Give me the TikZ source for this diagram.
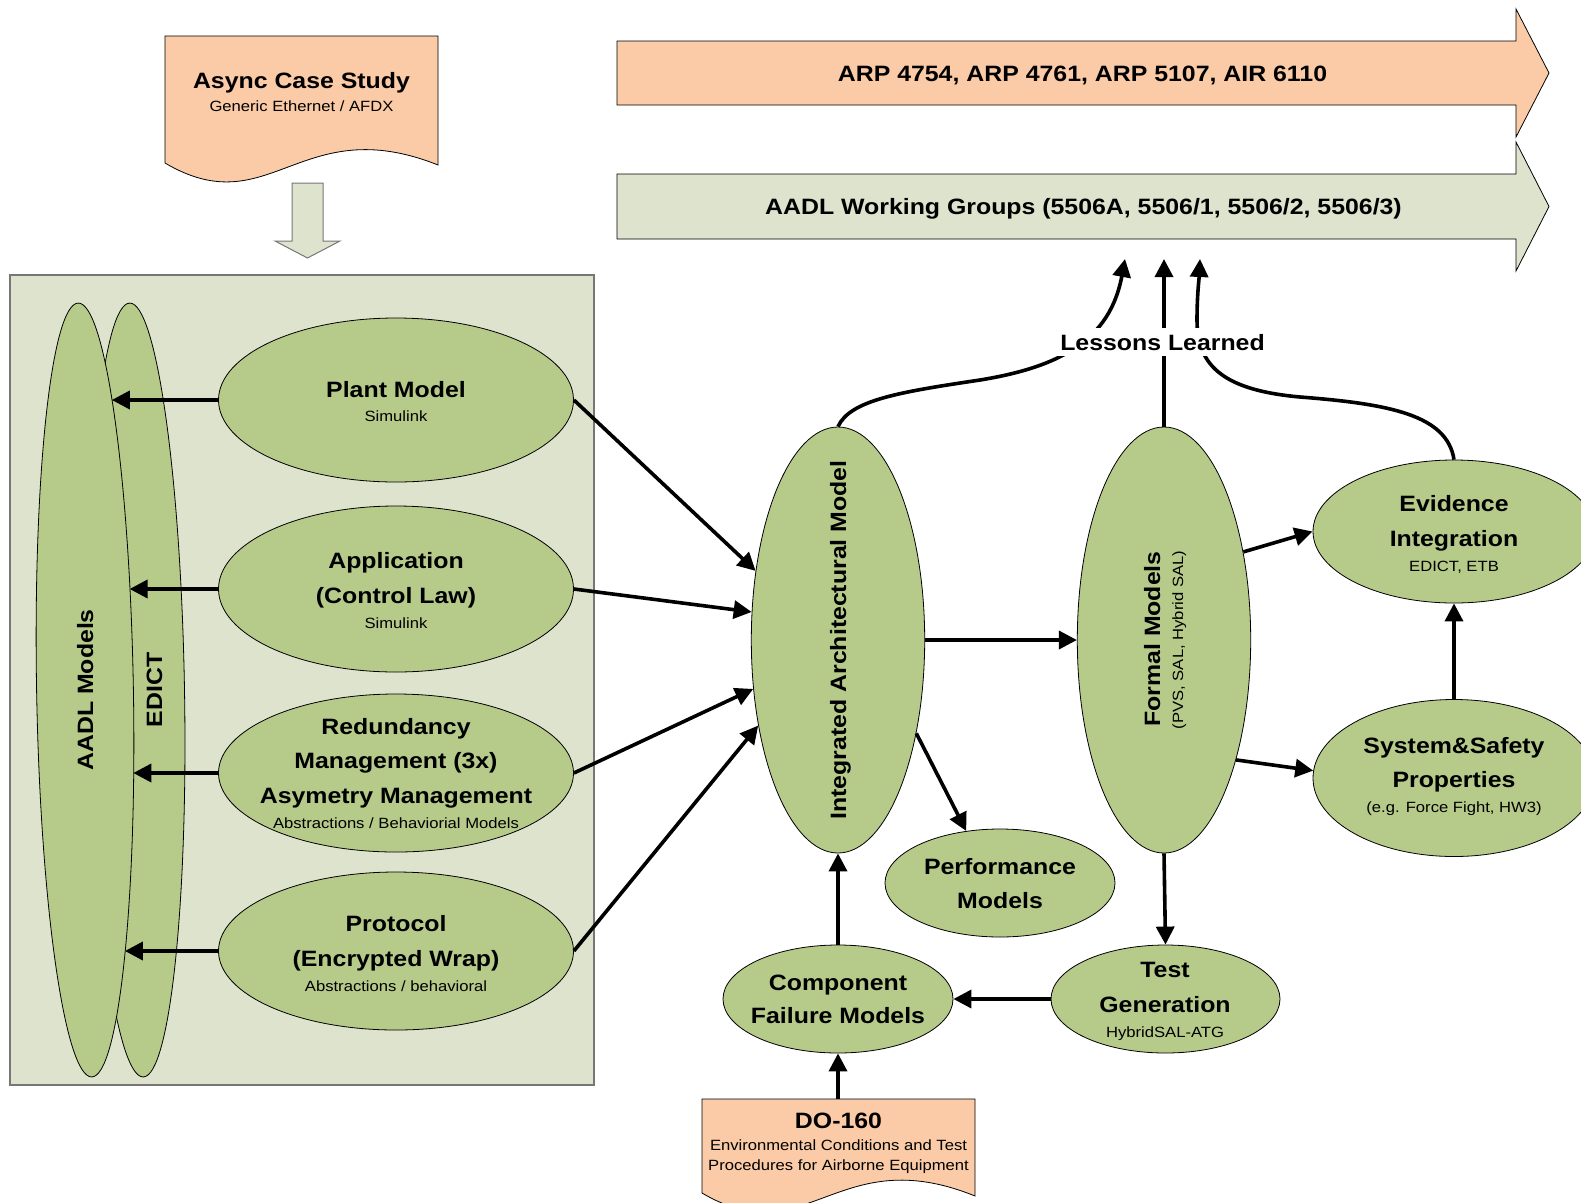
\documentclass[tikz,border=0pt]{standalone}
\usepackage{fontspec}
\setmainfont{Liberation Sans}[FakeStretch=1.12]
\usetikzlibrary{shapes.geometric, arrows.meta}
\definecolor{peach}{RGB}{250,203,166}
\definecolor{leaf}{RGB}{182,202,138}
\definecolor{sage}{RGB}{222,227,205}
\definecolor{rim}{RGB}{118,118,118}
\newcommand\headfont{\fontsize{22.2}{26}\selectfont\bfseries}
\newcommand\notefont{\fontsize{14.85}{18}\selectfont}
\begin{document}
\begin{tikzpicture}[x=1pt, y=-1pt,
  ell/.style={ellipse, draw=black, line width=0.8pt, fill=leaf, inner sep=0pt},
  sz/.style 2 args={minimum width=#1pt, minimum height=#2pt},
  hd/.style={font=\headfont, anchor=base, inner sep=0pt},
  nt/.style={font=\notefont, anchor=base, inner sep=0pt},
  flow/.style={line width=3.6pt, -{Triangle[length=18pt,width=18pt]}},
  shapeline/.style={draw=black, line width=0.8pt}]
\useasboundingbox (0,0) rectangle (1581,1202);
\clip (0,0) rectangle (1581,1202);

% ---- left panel with the modelling inputs
\draw[rim, fill=sage, line width=1.3pt] (10,275) rectangle (594,1085);

% ---- case study document and its arrow into the panel
\draw[shapeline, fill=peach] (165,36) -- (438,36) -- (438,165)
  .. controls (300,110) and (270,225) .. (165,163) -- cycle;
\node[hd] (async-a) at (301.5,88.5) {Async Case Study};
\node[nt] (async-b) at (301.5,111.7) {Generic Ethernet / AFDX};
\draw[rim, fill=sage, line width=1pt] (292,183) -- (323,183) -- (323,241) -- (340,241)
  -- (307.5,258) -- (275,241) -- (292,241) -- cycle;

% ---- standards block arrows
\draw[shapeline, fill=peach] (617,41) -- (1516,41) -- (1516,9) -- (1549,73)
  -- (1516,137) -- (1516,105) -- (617,105) -- cycle;
\node[hd] (arp) at (1082.5,81) {ARP 4754, ARP 4761, ARP 5107, AIR 6110};
\draw[shapeline, fill=sage] (617,174) -- (1516,174) -- (1516,142) -- (1549,206.5)
  -- (1516,271) -- (1516,239) -- (617,239) -- cycle;
\node[hd] (aadlwg) at (1083.5,214) {AADL Working Groups (5506A, 5506/1, 5506/2, 5506/3)};

% ---- tall ellipses: EDICT behind AADL Models
\node[ell, sz={96}{774}, rotate=1] (edict) at (136.5,690) {};
\node[ell, sz={96.8}{774}, rotate=1] (aadl) at (85,690) {};
\node[hd, rotate=90] (aadl-t) at (93,690) {AADL Models};
\node[hd, rotate=90] (edict-t) at (162,690) {EDICT};
% points on the right rim of the AADL ellipse where the inputs land
\coordinate (aadl-in1) at (111.8,400);
\coordinate (aadl-in2) at (129.6,589);
\coordinate (aadl-in3) at (133.3,773);
\coordinate (aadl-in4) at (124.9,951);

% ---- source models
\node[ell, sz={355}{164}] (plant) at (396,400) {};
\node[ell, sz={355}{166}] (app) at (396,589) {};
\node[ell, sz={355}{158}] (redund) at (396,773) {};
\node[ell, sz={355}{158}] (proto) at (396,951) {};

% ---- analysis side
\node[ell, sz={173.4}{426}] (iam) at (838,640) {};
\node[ell, sz={173.4}{426}] (formal) at (1164,640) {};
\node[ell, sz={282}{143}] (evid) at (1454,531.5) {};
\node[ell, sz={282}{157}] (sys) at (1454,778) {};
\node[ell, sz={230}{108}] (perf) at (1000,883) {};
\node[ell, sz={230}{108}] (comp) at (838,999) {};
\node[ell, sz={229}{108}] (testgen) at (1165.5,999) {};

% ---- DO-160 document
\draw[shapeline, fill=peach] (702,1099) -- (975,1099) -- (975,1196)
  .. controls (837,1140) and (807,1255) .. (702,1193) -- cycle;
\coordinate (do-top) at (838,1099);

% ---- connectors
\draw[flow] (plant.west) -- (aadl-in1);
\draw[flow] (app.west) -- (aadl-in2);
\draw[flow] (redund.west) -- (aadl-in3);
\draw[flow] (proto.west) -- (aadl-in4);
\draw[flow] (plant.east) -- (iam.140.7);
\draw[flow] (app.east) -- (iam.162);
\draw[flow] (redund.east) -- (iam.210.5);
\draw[flow] (proto.east) -- (iam.227);
\draw[flow] (iam.east) -- (formal.west);
\draw[flow] (iam.310) -- (perf.123);
\draw[flow] (comp.north) -- (iam.south);
\draw[flow] (do-top) -- (comp.south);
\draw[flow] (testgen.west) -- (comp.east);
\draw[flow] (formal.south) -- (testgen.north);
\draw[flow] (formal.48) -- (evid.west);
\draw[flow] (formal.301.5) -- (sys.177);
\draw[flow] (sys.north) -- (evid.south);

% ---- lessons learned feedback
\coordinate (ll-left) at (1125,259);
\coordinate (ll-mid) at (1164,259);
\coordinate (ll-right) at (1200,259);
\draw[flow] (iam.north) .. controls (850,400) and (900,392) .. (980,380)
  .. controls (1060,367) and (1110,340) .. (ll-left);
\draw[flow] (formal.north) -- (ll-mid);
\draw[flow] (evid.north) .. controls (1447,415) and (1390,404) .. (1300,397)
  .. controls (1222,390) and (1197,365) .. (1197,320)
  .. controls (1197,295) and (1199,280) .. (ll-right);
\node[hd, fill=white, inner xsep=3pt, inner ysep=6pt] (lessons) at (1162.5,350) {Lessons Learned};

% ---- labels
\node[hd] (plant-a) at (396,397) {Plant Model};
\node[nt] (plant-b) at (396,421.7) {Simulink};
\node[hd] (app-a) at (396,568.6) {Application};
\node[hd] (app-b) at (396,603) {(Control Law)};
\node[nt] (app-c) at (396,628.4) {Simulink};
\node[hd] (redund-a) at (396,734) {Redundancy};
\node[hd] (redund-b) at (396,768.5) {Management (3x)};
\node[hd] (redund-c) at (396,803) {Asymetry Management};
\node[nt] (redund-d) at (396,828) {Abstractions / Behaviorial Models};
\node[hd] (proto-a) at (396,931.6) {Protocol};
\node[hd] (proto-b) at (396,966) {(Encrypted Wrap)};
\node[nt] (proto-c) at (396,991.4) {Abstractions / behavioral};

\node[hd, rotate=90] (iam-t) at (846,640) {Integrated Architectural Model};
\node[hd, rotate=90] (formal-a) at (1160,639) {Formal Models};
\node[nt, rotate=90] (formal-b) at (1183,640) {(PVS, SAL, Hybrid SAL)};
\node[hd] (evid-a) at (1454,511) {Evidence};
\node[hd] (evid-b) at (1454,546) {Integration};
\node[nt] (evid-c) at (1454,571) {EDICT, ETB};
\node[hd] (sys-a) at (1454,753.3) {System\&Safety};
\node[hd] (sys-b) at (1454,787) {Properties};
\node[nt] (sys-c) at (1454,812) {(e.g. Force Fight, HW3)};
\node[hd] (perf-a) at (1000,874.5) {Performance};
\node[hd] (perf-b) at (1000,908.2) {Models};
\node[hd] (comp-a) at (838,990) {Component};
\node[hd] (comp-b) at (838,1023.2) {Failure Models};
\node[hd] (test-a) at (1165,977.5) {Test};
\node[hd] (test-b) at (1165,1012) {Generation};
\node[nt] (test-c) at (1165,1037.3) {HybridSAL-ATG};
\node[hd] (do-a) at (838.5,1128.3) {DO-160};
\node[nt] (do-b) at (838.5,1150.7) {Environmental Conditions and Test};
\node[nt] (do-c) at (838.5,1170) {Procedures for Airborne Equipment};
\end{tikzpicture}
\end{document}
